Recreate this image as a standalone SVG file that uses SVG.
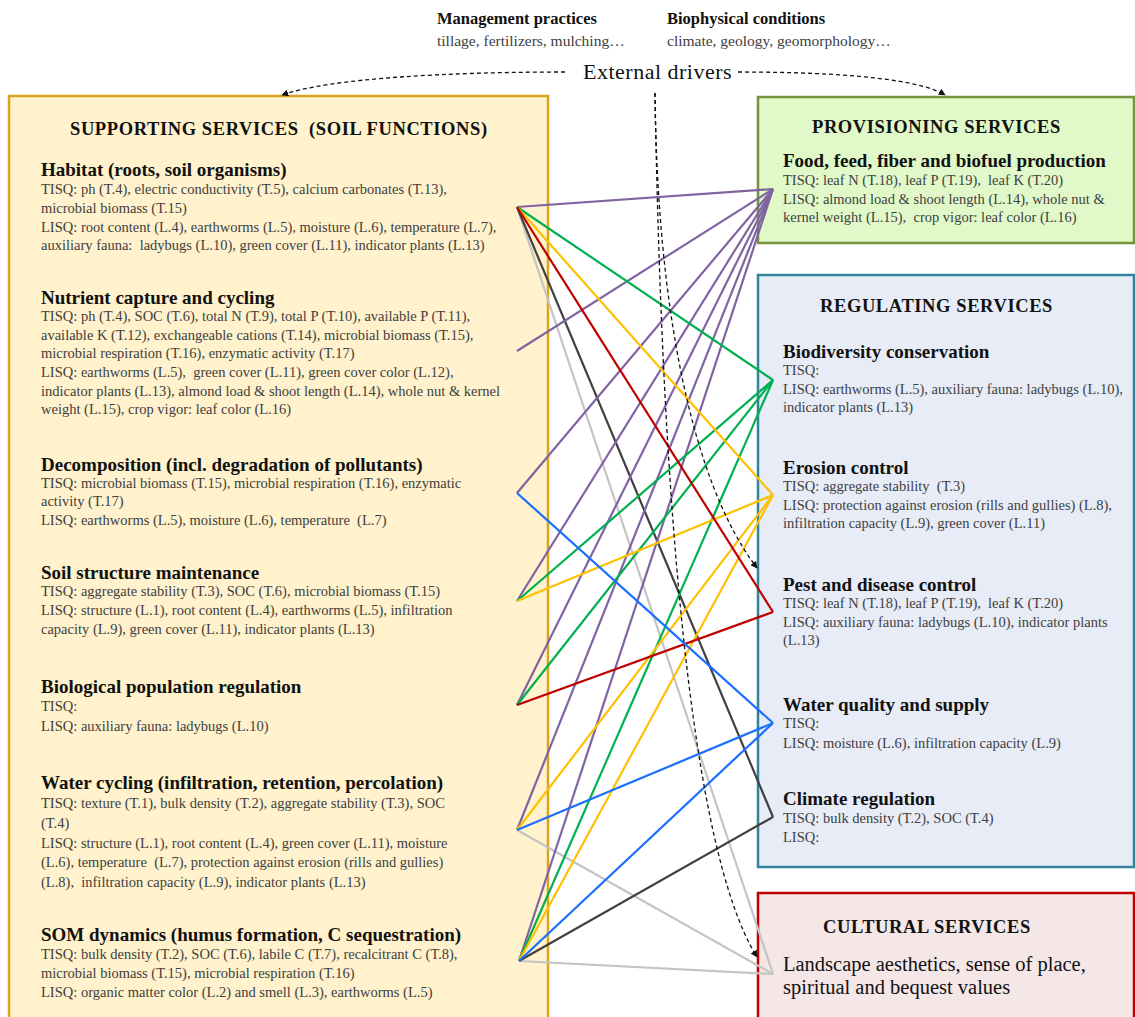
<svg xmlns="http://www.w3.org/2000/svg" width="1135" height="1017" viewBox="0 0 1135 1017">
<defs>
<style>
text{white-space:pre;font-family:"Liberation Serif","Times New Roman",serif}
.t{font-size:18.5px;font-weight:bold;fill:#111;letter-spacing:0.6px}
.h{font-size:19px;font-weight:bold;fill:#111}
.b{font-size:14.5px;fill:#404040}
.dh{font-size:16.5px;font-weight:bold;fill:#111}
.ds{font-size:15.5px;fill:#404040}
.ed{font-size:22px;fill:#111;letter-spacing:0.5px}
.land{font-size:20.5px;fill:#111}
.c line{stroke-width:2.2;fill:none}
.pu{stroke:#8064A2}.gr{stroke:#00B050}.ye{stroke:#FFC000}.re{stroke:#C00000}.bl{stroke:#1A6FFF}.bk{stroke:#404040}.gy{stroke:#C4C4C4}
.dash{fill:none;stroke:#111;stroke-width:1.3;stroke-dasharray:4 3}
</style>
<marker id="ah" viewBox="0 0 10 10" refX="9" refY="5" markerWidth="7" markerHeight="7" orient="auto" markerUnits="userSpaceOnUse"><path d="M0,0 L10,5 L0,10 z" fill="#111"/></marker>
</defs>
<rect width="1135" height="1017" fill="#fff"/>

<g id="drivers">
<text class="dh" x="437" y="24">Management practices</text>
<text class="ds" x="437" y="46">tillage, fertilizers, mulching…</text>
<text class="dh" x="667" y="24">Biophysical conditions</text>
<text class="ds" x="667" y="46">climate, geology, geomorphology…</text>
<text class="ed" x="583" y="79">External drivers</text>
</g>

<g id="supporting">
<rect x="9" y="96" width="539" height="940" fill="#FFF2CC" stroke="#D9A520" stroke-width="2.5"/>
<text class="t" x="70" y="135">SUPPORTING SERVICES  (SOIL FUNCTIONS)</text>
<g id="habitat">
<text class="h" x="41" y="176">Habitat (roots, soil organisms)</text>
<text class="b" x="41" y="194">TISQ: ph (T.4), electric conductivity (T.5), calcium carbonates (T.13),</text>
<text class="b" x="41" y="213">microbial biomass (T.15)</text>
<text class="b" x="41" y="232">LISQ: root content (L.4), earthworms (L.5), moisture (L.6), temperature (L.7),</text>
<text class="b" x="41" y="250">auxiliary fauna:  ladybugs (L.10), green cover (L.11), indicator plants (L.13)</text>
</g>
<g id="nutrient">
<text class="h" x="41" y="304">Nutrient capture and cycling</text>
<text class="b" x="41" y="321">TISQ: ph (T.4), SOC (T.6), total N (T.9), total P (T.10), available P (T.11),</text>
<text class="b" x="41" y="340">available K (T.12), exchangeable cations (T.14), microbial biomass (T.15),</text>
<text class="b" x="41" y="358">microbial respiration (T.16), enzymatic activity (T.17)</text>
<text class="b" x="41" y="377">LISQ: earthworms (L.5),  green cover (L.11), green cover color (L.12),</text>
<text class="b" x="41" y="396">indicator plants (L.13), almond load &amp; shoot length (L.14), whole nut &amp; kernel</text>
<text class="b" x="41" y="414">weight (L.15), crop vigor: leaf color (L.16)</text>
</g>
<g id="decomposition">
<text class="h" x="41" y="471">Decomposition (incl. degradation of pollutants)</text>
<text class="b" x="41" y="488">TISQ: microbial biomass (T.15), microbial respiration (T.16), enzymatic</text>
<text class="b" x="41" y="506">activity (T.17)</text>
<text class="b" x="41" y="525">LISQ: earthworms (L.5), moisture (L.6), temperature  (L.7)</text>
</g>
<g id="structure">
<text class="h" x="41" y="579">Soil structure maintenance</text>
<text class="b" x="41" y="596">TISQ: aggregate stability (T.3), SOC (T.6), microbial biomass (T.15)</text>
<text class="b" x="41" y="615">LISQ: structure (L.1), root content (L.4), earthworms (L.5), infiltration</text>
<text class="b" x="41" y="634">capacity (L.9), green cover (L.11), indicator plants (L.13)</text>
</g>
<g id="biopop">
<text class="h" x="41" y="693">Biological population regulation</text>
<text class="b" x="41" y="711">TISQ:</text>
<text class="b" x="41" y="731">LISQ: auxiliary fauna: ladybugs (L.10)</text>
</g>
<g id="water-cycling">
<text class="h" x="41" y="789">Water cycling (infiltration, retention, percolation)</text>
<text class="b" x="41" y="808">TISQ: texture (T.1), bulk density (T.2), aggregate stability (T.3), SOC</text>
<text class="b" x="41" y="828">(T.4)</text>
<text class="b" x="41" y="848">LISQ: structure (L.1), root content (L.4), green cover (L.11), moisture</text>
<text class="b" x="41" y="867">(L.6), temperature  (L.7), protection against erosion (rills and gullies)</text>
<text class="b" x="41" y="887">(L.8),  infiltration capacity (L.9), indicator plants (L.13)</text>
</g>
<g id="som">
<text class="h" x="41" y="941">SOM dynamics (humus formation, C sequestration)</text>
<text class="b" x="41" y="959">TISQ: bulk density (T.2), SOC (T.6), labile C (T.7), recalcitrant C (T.8),</text>
<text class="b" x="41" y="978">microbial biomass (T.15), microbial respiration (T.16)</text>
<text class="b" x="41" y="997">LISQ: organic matter color (L.2) and smell (L.3), earthworms (L.5)</text>
</g>
</g>

<g id="provisioning">
<rect x="758" y="97" width="376" height="146" fill="#E1F9C9" stroke="#77933C" stroke-width="2.5"/>
<text class="t" x="812" y="133">PROVISIONING SERVICES</text>
<g id="food">
<text class="h" x="783" y="167">Food, feed, fiber and biofuel production</text>
<text class="b" x="783" y="185">TISQ: leaf N (T.18), leaf P (T.19),  leaf K (T.20)</text>
<text class="b" x="783" y="204">LISQ: almond load &amp; shoot length (L.14), whole nut &amp;</text>
<text class="b" x="783" y="222">kernel weight (L.15),  crop vigor: leaf color (L.16)</text>
</g>
</g>

<g id="regulating">
<rect x="758" y="275" width="376" height="592" fill="#E7ECF7" stroke="#31849B" stroke-width="2.5"/>
<text class="t" x="820" y="312">REGULATING SERVICES</text>
<g id="biodiversity">
<text class="h" x="783" y="358">Biodiversity conservation</text>
<text class="b" x="783" y="375">TISQ:</text>
<text class="b" x="783" y="394">LISQ: earthworms (L.5), auxiliary fauna: ladybugs (L.10),</text>
<text class="b" x="783" y="412">indicator plants (L.13)</text>
</g>
<g id="erosion">
<text class="h" x="783" y="474">Erosion control</text>
<text class="b" x="783" y="491">TISQ: aggregate stability  (T.3)</text>
<text class="b" x="783" y="510">LISQ: protection against erosion (rills and gullies) (L.8),</text>
<text class="b" x="783" y="528">infiltration capacity (L.9), green cover (L.11)</text>
</g>
<g id="pest">
<text class="h" x="783" y="591">Pest and disease control</text>
<text class="b" x="783" y="608">TISQ: leaf N (T.18), leaf P (T.19),  leaf K (T.20)</text>
<text class="b" x="783" y="627">LISQ: auxiliary fauna: ladybugs (L.10), indicator plants</text>
<text class="b" x="783" y="645">(L.13)</text>
</g>
<g id="water-quality">
<text class="h" x="783" y="711">Water quality and supply</text>
<text class="b" x="783" y="728">TISQ:</text>
<text class="b" x="783" y="748">LISQ: moisture (L.6), infiltration capacity (L.9)</text>
</g>
<g id="climate">
<text class="h" x="783" y="805">Climate regulation</text>
<text class="b" x="783" y="823">TISQ: bulk density (T.2), SOC (T.4)</text>
<text class="b" x="783" y="842">LISQ:</text>
</g>
</g>

<g id="cultural">
<rect x="758" y="893" width="376" height="140" fill="#F5E6E8" stroke="#C00000" stroke-width="2.5"/>
<text class="t" x="823" y="933">CULTURAL SERVICES</text>
<text class="land" x="783" y="971">Landscape aesthetics, sense of place,</text>
<text class="land" x="783" y="994">spiritual and bequest values</text>
</g>

<g id="connectors" class="c">
<line class="gy" x1="517" y1="207" x2="773" y2="974"/>
<line class="gy" x1="517" y1="830" x2="773" y2="974"/>
<line class="gy" x1="519" y1="961" x2="773" y2="974"/>
<line class="bk" x1="517" y1="207" x2="773" y2="817"/>
<line class="bk" x1="519" y1="961" x2="773" y2="817"/>
<line class="pu" x1="517" y1="207" x2="773" y2="189"/>
<line class="pu" x1="517" y1="351" x2="773" y2="189"/>
<line class="pu" x1="517" y1="493" x2="773" y2="189"/>
<line class="pu" x1="517" y1="601" x2="773" y2="189"/>
<line class="pu" x1="517" y1="705" x2="773" y2="189"/>
<line class="pu" x1="517" y1="830" x2="773" y2="189"/>
<line class="pu" x1="519" y1="961" x2="773" y2="189"/>
<line class="gr" x1="517" y1="207" x2="773" y2="380"/>
<line class="gr" x1="517" y1="601" x2="773" y2="380"/>
<line class="gr" x1="517" y1="705" x2="773" y2="380"/>
<line class="gr" x1="519" y1="961" x2="773" y2="380"/>
<line class="ye" x1="517" y1="207" x2="773" y2="495"/>
<line class="ye" x1="517" y1="601" x2="773" y2="495"/>
<line class="ye" x1="517" y1="830" x2="773" y2="495"/>
<line class="ye" x1="519" y1="961" x2="773" y2="495"/>
<line class="re" x1="517" y1="207" x2="773" y2="612"/>
<line class="re" x1="517" y1="705" x2="773" y2="612"/>
<line class="bl" x1="517" y1="493" x2="773" y2="723"/>
<line class="bl" x1="517" y1="830" x2="773" y2="723"/>
<line class="bl" x1="519" y1="961" x2="773" y2="723"/>
<path class="dash" d="M565,72 C450,72 330,78 282,95" marker-end="url(#ah)"/>
<path class="dash" d="M738,72 C850,72 920,80 945,95" marker-end="url(#ah)"/>
<path class="dash" d="M655,93 C657,300 690,480 757,568" marker-end="url(#ah)"/>
<path class="dash" d="M655,93 C662,500 690,850 757,957" marker-end="url(#ah)"/>
</g>
</svg>
